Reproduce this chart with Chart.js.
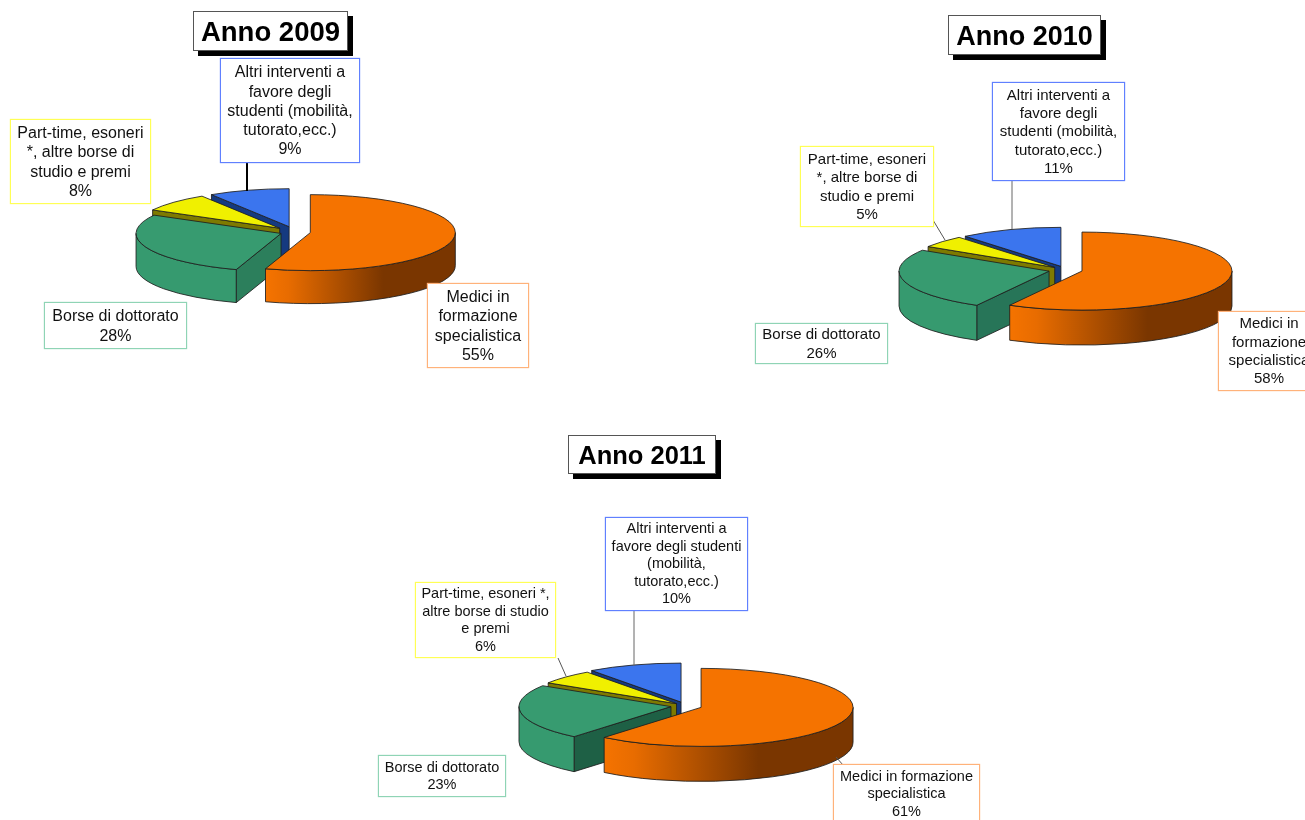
<!DOCTYPE html>
<html lang="it">
<head>
<meta charset="utf-8">
<title>Anno 2009 - 2011</title>
<script src="https://cdn.jsdelivr.net/npm/chart.js@4"></script>
<style>
html,body{margin:0;padding:0;background:#fff;width:1305px;height:820px;overflow:hidden;font-family:"Liberation Sans",Arial,sans-serif;color:#111}
canvas{position:absolute;z-index:1}
svg{position:absolute;left:0;top:0;z-index:2}
.lab{position:absolute;z-index:3;background:#fff;box-sizing:border-box;border:1px solid;display:flex;align-items:center;justify-content:center;text-align:center;white-space:nowrap}
.title{position:absolute;z-index:3;background:#fff;box-sizing:border-box;border:1px solid #555;box-shadow:5px 5px 0 #000;display:flex;align-items:center;justify-content:center;font-weight:bold;color:#000;white-space:nowrap;padding-top:2px}
</style>
</head>
<body>
<canvas id="c2009"></canvas>
<canvas id="c2010"></canvas>
<canvas id="c2011"></canvas>
<svg id="leaders" width="1305" height="820"></svg>
<script>
// ---- data ----
const categories = ["Medici in formazione specialistica","Borse di dottorato","Part-time, esoneri *, altre borse di studio e premi","Altri interventi a favore degli studenti (mobilità, tutorato,ecc.)"];
const values2009 = [55, 28, 8, 9];
const values2010 = [58, 26, 5, 11];
const values2011 = [61, 23, 6, 10];
const titles = ["Anno 2009", "Anno 2010", "Anno 2011"];
const lines2009 = [["Medici in","formazione","specialistica"],["Borse di dottorato"],["Part-time, esoneri","*, altre borse di","studio e premi"],["Altri interventi a","favore degli","studenti (mobilità,","tutorato,ecc.)"]];
const lines2010 = lines2009;
const lines2011 = [["Medici in formazione","specialistica"],["Borse di dottorato"],["Part-time, esoneri *,","altre borse di studio","e premi"],["Altri interventi a","favore degli studenti","(mobilità,","tutorato,ecc.)"]];

// ---- styles ----
const topColors = ["#F57300","#379B70","#F0F000","#3B75EE"];
const borderColors = ["#FFB27A","#8FD4B5","#FFFF55","#6080FF"];
const sideColors = ["#7A3600","#369A6F","#7E7A00","#153A80"];
const drawOrder = [3,2,1,0];

function pie3dPlugin(){
  return {
    id:"pie3d",
    beforeDatasetDraw(chart,args,opts){
      const ctx=chart.ctx, arcs=args.meta.data, s=opts.squash, d=opts.depth;
      const path=(cx,cy,r,a0,a1,ccw)=>ctx.ellipse(cx,cy,r,r*s,0,a0,a1,ccw);
      drawOrder.forEach(i=>{
        const arc=arcs[i], a0=arc.startAngle, a1=arc.endAngle, r=arc.outerRadius;
        const mid=(a0+a1)/2, e=opts.explode[i];
        const cx=arc.x+Math.cos(mid)*e, cy=arc.y+Math.sin(mid)*e*s;
        ctx.save();
        ctx.lineWidth=1; ctx.strokeStyle="rgba(30,30,30,0.85)"; ctx.lineJoin="round";
        // cut faces: a face is shown only when its normal points towards the viewer
        [[a0,-Math.cos(a0)],[a1,Math.cos(a1)]].forEach(([a,ny])=>{
          if(ny<=0.001) return;
          const px=cx+Math.cos(a)*r, py=cy+Math.sin(a)*r*s;
          ctx.beginPath();
          ctx.moveTo(cx,cy);ctx.lineTo(px,py);ctx.lineTo(px,py+d);ctx.lineTo(cx,cy+d);ctx.closePath();
          ctx.fillStyle= i===1? opts.cutGreen : sideColors[i];
          ctx.fill();ctx.stroke();
        });
        // outer wall: only the part of the rim that faces the viewer
        const b0=Math.max(a0,0), b1=Math.min(a1,Math.PI);
        if(b1>b0){
          ctx.beginPath();
          path(cx,cy,r,b0,b1,false);
          path(cx,cy+d,r,b1,b0,true);
          ctx.closePath();
          const xl=cx+Math.cos(b1)*r, xr=cx+Math.cos(b0)*r;
          if(i===0){
            const g=ctx.createLinearGradient(xl,0,xr,0);
            g.addColorStop(0,"#F57300");g.addColorStop(0.12,"#E86C00");g.addColorStop(0.62,"#7A3600");g.addColorStop(1,"#7A3600");
            ctx.fillStyle=g;
          } else ctx.fillStyle=sideColors[i];
          ctx.fill();ctx.stroke();
        }
        // top face, drawn by the library's own arc element
        ctx.save();
        ctx.translate(cx-arc.x,cy);
        ctx.scale(1,s);
        ctx.translate(0,-arc.y);
        arc.draw(ctx);
        ctx.restore();
        ctx.beginPath();
        ctx.moveTo(cx,cy);
        path(cx,cy,r,a0,a1,false);
        ctx.closePath();
        ctx.stroke();
        ctx.restore();
      });
      return false;
    }
  };
}

function makePie(id,values,cfg){
  const W=2*cfg.rx+90,H=2*cfg.rx+90;
  const cv=document.getElementById(id);
  cv.width=W;cv.height=H;cv.style.width=W+"px";cv.style.height=H+"px";
  cv.style.left=(cfg.cx-W/2)+"px";cv.style.top=(cfg.cy-H/2)+"px";
  return new Chart(cv,{
    type:"pie",
    data:{labels:categories,datasets:[{data:values,backgroundColor:topColors,borderWidth:0}]},
    options:{
      responsive:false,animation:false,radius:cfg.rx,rotation:0,
      layout:{padding:0},
      plugins:{legend:{display:false},title:{display:false},tooltip:{enabled:false},
        pie3d:{squash:cfg.ry/cfg.rx,depth:cfg.depth,explode:cfg.explode,cutGreen:cfg.cutGreen}}
    },
    plugins:[pie3dPlugin()]
  });
}
makePie("c2009",values2009,{cx:295,cy:232,rx:145,ry:38,depth:33,explode:[15.5,15,21,21],cutGreen:"#2C7F5C"});
makePie("c2010",values2010,{cx:1066,cy:270,rx:150,ry:39,depth:35,explode:[16.5,17.5,15,15],cutGreen:"#277558"});
makePie("c2011",values2011,{cx:686,cy:706,rx:152,ry:39,depth:35,explode:[16,15.2,13,16],cutGreen:"#1E6045"});

// ---- text boxes ----
function addTitle(text,x0,y0,x1,y1,fs){
  const d=document.createElement("div");d.className="title";d.textContent=text;
  d.style.cssText=`left:${x0}px;top:${y0}px;width:${x1-x0}px;height:${y1-y0}px;font-size:${fs}px`;
  document.body.appendChild(d);
}
function addLabel(lines,value,color,x0,y0,x1,y1,fs,lh){
  const d=document.createElement("div");d.className="lab";
  const inner=document.createElement("div");
  lines.concat([value+"%"]).forEach((t,k)=>{if(k)inner.appendChild(document.createElement("br"));inner.appendChild(document.createTextNode(t));});
  d.appendChild(inner);
  d.style.cssText=`left:${x0}px;top:${y0}px;width:${x1-x0}px;height:${y1-y0}px;font-size:${fs}px;line-height:${lh}px;border-color:${color};box-shadow:0 0 1px ${color}`;
  document.body.appendChild(d);
}
addTitle(titles[0],193,11,348,51,27.5);
addTitle(titles[1],948,15,1101,55,27);
addTitle(titles[2],568,435,716,474,25.5);

addLabel(lines2009[0],values2009[0],borderColors[0],427,283,529,368,16,19.3);
addLabel(lines2009[1],values2009[1],borderColors[1],44,302,187,349,16,19.3);
addLabel(lines2009[2],values2009[2],borderColors[2],10,119,151,204,16,19.3);
addLabel(lines2009[3],values2009[3],borderColors[3],220,58,360,163,16,19.3);

addLabel(lines2010[0],values2010[0],borderColors[0],1218,311,1320,391,15,18.3);
addLabel(lines2010[1],values2010[1],borderColors[1],755,323,888,364,15,18.3);
addLabel(lines2010[2],values2010[2],borderColors[2],800,146,934,227,15,18.3);
addLabel(lines2010[3],values2010[3],borderColors[3],992,82,1125,181,15,18.3);

addLabel(lines2011[0],values2011[0],borderColors[0],833,764,980,824,14.5,17.5);
addLabel(lines2011[1],values2011[1],borderColors[1],378,755,506,797,14.5,17.5);
addLabel(lines2011[2],values2011[2],borderColors[2],415,582,556,658,14.5,17.5);
addLabel(lines2011[3],values2011[3],borderColors[3],605,517,748,611,14.5,17.5);

// ---- leader lines ----
const leaderSegments=[[247,162,247,191,"#000",2],[1012,181,1012,229,"#666",1],[933,220,945,240,"#555",1],[634,611,634,666,"#666",1],[558,658,566,676,"#555",1],[836,757,843,765,"#555",1]];
document.getElementById("leaders").innerHTML=leaderSegments.map(([a,b,c,e,col,w])=>`<line x1="${a}" y1="${b}" x2="${c}" y2="${e}" stroke="${col}" stroke-width="${w}"/>`).join("");
</script>
</body>
</html>
